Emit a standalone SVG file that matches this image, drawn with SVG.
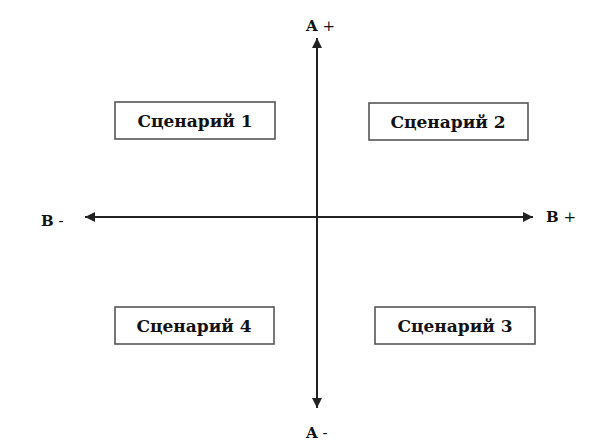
<svg xmlns="http://www.w3.org/2000/svg" width="606" height="443" viewBox="0 0 606 443">
<style>
.box{fill:#fff;stroke:#555;stroke-width:1.6}
.lbl{font-family:"DejaVu Serif","Liberation Serif",serif;font-weight:bold;font-size:17px;fill:#111;text-anchor:middle}
.ax{font-family:"DejaVu Serif","Liberation Serif",serif;font-size:15px;fill:#111}
.axis{stroke:#222;stroke-width:2;fill:none}
</style>
<defs>
<marker id="ah" viewBox="0 0 10 10" refX="10" refY="5" markerWidth="5" markerHeight="5" markerUnits="strokeWidth" orient="auto">
<path d="M0,0 L10,5 L0,10 z" fill="#222"/>
</marker>
</defs>
<rect width="606" height="443" fill="#fff"/>
<g id="connectors">
<line class="axis" x1="317" y1="220" x2="317" y2="38" marker-end="url(#ah)"/>
<line class="axis" x1="317" y1="214" x2="317" y2="408" marker-end="url(#ah)"/>
<line class="axis" x1="314" y1="217" x2="533" y2="217" marker-end="url(#ah)"/>
<line class="axis" x1="320" y1="217" x2="85" y2="217" marker-end="url(#ah)"/>
</g>
<g id="axis-labels">
<text class="ax" x="306" y="31"><tspan font-weight="bold">A</tspan> +</text>
<text class="ax" x="306" y="438"><tspan font-weight="bold">A</tspan> -</text>
<text class="ax" x="41" y="226"><tspan font-weight="bold">B</tspan> -</text>
<text class="ax" x="546" y="222"><tspan font-weight="bold">B</tspan> +</text>
</g>
<g id="s1"><rect class="box" x="115" y="102" width="160" height="37"/><text class="lbl" x="195" y="126.5">Сценарий 1</text></g>
<g id="s2"><rect class="box" x="369" y="103" width="159" height="37"/><text class="lbl" x="448" y="127.5">Сценарий 2</text></g>
<g id="s4"><rect class="box" x="115" y="307" width="159" height="37"/><text class="lbl" x="194" y="331.5">Сценарий 4</text></g>
<g id="s3"><rect class="box" x="375" y="307" width="160" height="37"/><text class="lbl" x="455" y="331.5">Сценарий 3</text></g>
</svg>
